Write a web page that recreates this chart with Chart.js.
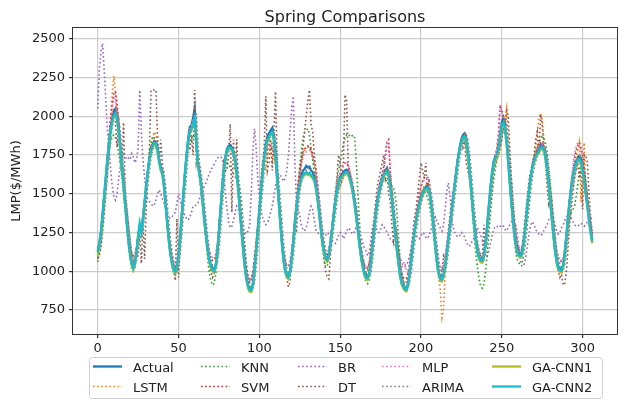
<!DOCTYPE html>
<html>
<head>
<meta charset="utf-8">
<script src="https://cdn.jsdelivr.net/npm/chart.js@4.4.1/dist/chart.umd.min.js"></script>
<style>
  html, body { margin: 0; padding: 0; background: #fff; }
  #wrap { width: 624px; height: 400px; }
</style>
</head>
<body>
<div id="wrap"><canvas id="springChart" width="624" height="400"></canvas></div>
<script>
// hour index of the test window
var hours = Array.from({length: 307}, function(_, i) { return i; });

var actual = [
  1130,1180,1260,1370,1490,1610,1730,1840,1930,1990,
  2030,2050,2000,1920,1800,1680,1560,1440,1320,1210,
  1120,1060,1030,1060,1130,1220,1300,1260,1350,1450,
  1560,1650,1730,1790,1820,1840,1835,1790,1720,1670,
  1650,1560,1440,1320,1210,1120,1060,1020,1000,1030,
  1100,1220,1360,1500,1640,1760,1860,1930,1940,1990,
  2050,1850,1690,1640,1560,1450,1340,1240,1150,1080,
  1040,1020,1010,1040,1120,1250,1400,1540,1660,1740,
  1790,1810,1815,1800,1770,1720,1640,1530,1400,1270,
  1150,1040,960,910,885,880,920,1010,1130,1260,
  1390,1520,1640,1740,1820,1870,1890,1910,1925,1870,
  1760,1620,1470,1320,1190,1080,1010,975,965,1000,
  1080,1190,1310,1420,1510,1580,1620,1650,1660,1680,
  1670,1675,1650,1640,1610,1560,1480,1390,1290,1200,
  1130,1090,1080,1110,1180,1270,1360,1450,1520,1570,
  1610,1620,1640,1650,1655,1640,1610,1570,1510,1440,
  1360,1270,1180,1100,1040,990,965,960,990,1060,
  1160,1270,1370,1450,1510,1560,1600,1630,1650,1665,
  1630,1560,1470,1370,1260,1160,1070,990,930,910,
  895,890,920,990,1080,1170,1260,1330,1390,1440,
  1480,1510,1530,1545,1555,1530,1470,1380,1270,1160,
  1060,990,955,950,980,1040,1120,1210,1300,1390,
  1480,1570,1660,1740,1800,1850,1880,1890,1860,1780,
  1670,1550,1420,1300,1200,1130,1090,1075,1070,1110,
  1190,1300,1420,1540,1640,1710,1740,1760,1800,1880,
  1960,1990,1950,1850,1720,1580,1450,1330,1230,1160,
  1120,1110,1110,1150,1230,1330,1440,1540,1620,1680,
  1720,1750,1770,1790,1810,1820,1800,1750,1670,1570,
  1460,1350,1240,1140,1070,1030,1015,1010,1040,1120,
  1230,1350,1460,1550,1620,1670,1710,1735,1745,1720,
  1660,1590,1510,1430,1340,1260,1200
];

var lstm = [
  1090,1140,1200,1300,1420,1560,1700,1850,2000,2150,
  2260,2150,2000,1850,1760,1700,1580,1460,1340,1230,
  1140,1070,1040,1050,1100,1190,1290,1280,1300,1400,
  1520,1630,1720,1800,1860,1900,1880,1820,1740,1680,
  1660,1580,1460,1340,1230,1130,1060,1010,990,1000,
  1070,1180,1320,1470,1610,1740,1850,1920,1930,1950,
  1980,1900,1720,1650,1580,1470,1360,1260,1160,1080,
  1030,1000,990,1010,1090,1210,1360,1510,1640,1730,
  1770,1790,1790,1780,1750,1700,1630,1530,1410,1280,
  1160,1050,960,900,875,870,900,990,1110,1240,
  1370,1500,1610,1690,1650,1720,1800,1780,1700,1760,
  1720,1600,1460,1320,1190,1080,1010,975,970,995,
  1070,1180,1310,1430,1540,1630,1700,1750,1780,1790,
  1800,1810,1780,1740,1690,1620,1530,1430,1320,1220,
  1140,1090,1070,1090,1160,1250,1350,1440,1520,1560,
  1540,1580,1600,1620,1630,1610,1580,1540,1490,1420,
  1340,1250,1160,1080,1020,975,955,950,975,1040,
  1140,1250,1360,1450,1510,1560,1600,1630,1650,1640,
  1620,1550,1460,1360,1250,1150,1060,985,930,905,
  890,885,905,970,1060,1160,1270,1350,1410,1460,
  1500,1530,1550,1560,1560,1530,1470,1380,1270,1160,
  1050,960,870,700,750,1000,1110,1190,1280,1370,
  1460,1550,1640,1720,1790,1840,1870,1880,1860,1790,
  1680,1560,1430,1310,1210,1130,1080,1060,1060,1090,
  1170,1270,1380,1490,1590,1660,1700,1720,1740,1790,
  1860,1950,1980,2050,1860,1650,1480,1350,1240,1160,
  1120,1100,1100,1130,1210,1310,1420,1530,1620,1690,
  1740,1800,1900,1990,2020,1980,1860,1740,1640,1550,
  1450,1340,1230,1130,1060,1020,1000,995,1020,1090,
  1190,1310,1420,1510,1590,1650,1710,1780,1830,1450,
  1600,1830,1550,1430,1340,1260,1190
];

var knn = [
  1060,1120,1200,1310,1430,1550,1660,1760,1830,1870,
  1880,1860,1820,1760,1690,1600,1500,1390,1280,1170,
  1080,1020,1000,1020,1100,1200,1270,1240,1310,1420,
  1540,1650,1750,1830,1870,1860,1820,1760,1700,1640,
  1620,1540,1430,1320,1200,1100,1030,990,975,1000,
  1080,1200,1350,1500,1630,1740,1820,1850,1840,1870,
  1880,1800,1680,1620,1540,1430,1310,1190,1080,990,
  940,910,920,980,1080,1220,1370,1510,1620,1680,
  1700,1690,1670,1650,1630,1610,1590,1560,1530,1450,
  1320,1180,1040,940,880,870,900,990,1110,1250,
  1390,1520,1640,1730,1800,1840,1850,1840,1820,1790,
  1700,1580,1440,1300,1170,1060,990,960,960,1000,
  1090,1210,1340,1460,1570,1680,1780,1860,1900,1910,
  1920,1880,1800,1720,1640,1560,1470,1370,1260,1150,
  1070,1030,1030,1080,1180,1300,1410,1510,1590,1650,
  1700,1760,1820,1860,1880,1870,1880,1870,1880,1860,
  1700,1500,1310,1150,1040,970,930,920,940,1010,
  1120,1250,1370,1460,1520,1560,1590,1600,1590,1580,
  1560,1560,1550,1540,1500,1400,1240,1080,960,900,
  880,880,920,1000,1100,1200,1290,1360,1420,1460,
  1500,1510,1510,1500,1480,1440,1380,1300,1210,1110,
  1020,960,940,940,970,1030,1110,1200,1290,1380,
  1470,1560,1650,1730,1790,1830,1850,1840,1790,1710,
  1600,1480,1350,1220,1110,1020,950,900,890,920,
  1000,1110,1240,1370,1490,1590,1660,1720,1800,1860,
  1900,1910,1880,1800,1690,1560,1420,1290,1180,1100,
  1060,1050,1050,1070,1130,1220,1330,1440,1540,1630,
  1700,1760,1800,1830,1860,1870,1860,1830,1770,1680,
  1570,1450,1330,1210,1110,1040,1000,990,1010,1080,
  1180,1280,1350,1380,1400,1420,1480,1560,1640,1690,
  1700,1640,1560,1470,1380,1290,1220
];

var svm = [
  1140,1180,1250,1350,1470,1600,1740,1870,1990,2080,
  2150,2160,2080,1950,1820,1700,1580,1460,1350,1250,
  1170,1120,1100,1110,1160,1230,1300,1300,1360,1450,
  1550,1640,1720,1790,1830,1840,1820,1780,1720,1680,
  1650,1580,1470,1360,1260,1170,1100,1060,1050,1070,
  1130,1230,1360,1490,1620,1740,1840,1900,1940,1960,
  1980,1860,1730,1670,1590,1490,1390,1290,1200,1130,
  1090,1070,1070,1100,1170,1280,1410,1540,1650,1740,
  1780,1800,1810,1800,1770,1730,1660,1560,1440,1320,
  1200,1100,1020,970,950,950,980,1060,1170,1290,
  1410,1530,1640,1730,1790,1820,1820,1800,1790,1760,
  1700,1600,1470,1340,1220,1120,1060,1030,1030,1060,
  1130,1230,1350,1460,1560,1650,1720,1770,1790,1800,
  1810,1800,1780,1760,1720,1660,1570,1470,1360,1250,
  1170,1120,1110,1140,1210,1300,1390,1470,1540,1600,
  1640,1670,1690,1700,1700,1680,1640,1590,1530,1460,
  1380,1290,1200,1130,1080,1040,1020,1020,1050,1110,
  1200,1300,1400,1480,1540,1590,1630,1680,1760,1840,
  1850,1650,1510,1400,1300,1200,1110,1040,990,960,
  950,950,970,1030,1110,1200,1290,1370,1440,1500,
  1550,1580,1600,1610,1610,1580,1520,1430,1330,1230,
  1130,1060,1020,1010,1030,1090,1170,1260,1350,1440,
  1520,1600,1680,1750,1800,1840,1860,1860,1830,1760,
  1660,1550,1430,1320,1230,1160,1120,1100,1100,1130,
  1200,1300,1410,1520,1620,1700,1750,1790,1880,2070,
  2040,1990,1930,1840,1720,1590,1470,1360,1270,1200,
  1160,1140,1140,1170,1240,1330,1430,1530,1610,1680,
  1730,1770,1800,1820,1830,1830,1810,1760,1680,1590,
  1490,1390,1290,1200,1130,1090,1070,1060,1080,1140,
  1240,1350,1460,1560,1650,1720,1780,1810,1830,1800,
  1740,1660,1570,1480,1390,1310,1240
];

var br = [
  2050,2300,2420,2470,2300,2100,1900,1800,1650,1550,
  1480,1460,1500,1600,1680,1750,1760,1740,1720,1730,
  1720,1760,1740,1700,1720,1800,2170,1900,1720,1600,
  1490,1460,1450,1440,1420,1430,1460,1500,1525,1500,
  1470,1440,1400,1370,1350,1340,1350,1370,1380,1440,
  1500,1460,1410,1380,1360,1340,1330,1350,1380,1420,
  1420,1430,1440,1470,1500,1520,1550,1570,1600,1630,
  1650,1670,1690,1710,1730,1740,1740,1730,1650,1500,
  1400,1320,1280,1290,1330,1380,1420,1400,1350,1300,
  1270,1250,1240,1260,1300,1500,1780,1920,1800,1600,
  1480,1400,1350,1320,1300,1310,1340,1380,1420,1480,
  1550,1600,1610,1620,1600,1580,1600,1650,1750,1900,
  2050,2130,1700,1420,1400,1360,1300,1270,1260,1280,
  1320,1380,1420,1400,1330,1270,1250,1240,1230,1250,
  1240,1230,1250,1240,1220,1200,1190,1180,1200,1230,
  1250,1240,1210,1230,1260,1280,1270,1250,1240,1260,
  1290,1280,1250,1220,1180,1150,1130,1100,1120,1200,
  1280,1310,1290,1260,1250,1270,1300,1290,1270,1250,
  1230,1210,1200,1180,1170,1150,1120,1090,1060,1040,
  1030,1040,1060,1100,1150,1200,1240,1230,1220,1210,
  1230,1250,1240,1220,1210,1230,1260,1300,1330,1350,
  1320,1300,1280,1260,1300,1400,1520,1570,1480,1350,
  1280,1250,1230,1220,1230,1250,1240,1220,1190,1170,
  1160,1180,1200,1220,1250,1280,1260,1230,1200,1150,
  1120,1100,1130,1180,1230,1270,1290,1290,1280,1290,
  1300,1290,1270,1260,1280,1300,1320,1330,1310,1290,
  1200,1100,1040,1030,1050,1100,1180,1250,1300,1320,
  1300,1270,1250,1240,1230,1240,1260,1280,1300,1330,
  1350,1360,1340,1300,1260,1240,1250,1280,1300,1330,
  1350,1370,1360,1340,1320,1300,1290,1290,1300,1310,
  1300,1290,1300,1320,1340,1350,1330
];

var dt = [
  1080,1100,1150,1250,1380,1500,1640,1780,1900,2000,
  2050,1960,1800,1980,1700,1690,1960,1500,1400,1300,
  1200,1120,1080,1050,1090,1100,1250,1050,1300,1080,
  1400,1600,1800,2170,2170,2170,2170,1880,1700,1850,
  1700,1550,1450,1350,1250,1150,1080,1000,940,1340,
  960,1150,1300,1450,1600,1750,1850,1780,1880,1750,
  2170,1700,1750,1600,1500,1400,1300,1200,1120,1050,
  1000,960,980,1050,1150,1300,1420,1600,1700,1650,
  1650,1750,1950,1380,1850,1650,1850,1500,1400,1300,
  1200,1080,1000,950,930,950,1000,1100,1200,1300,
  1450,1600,1700,1800,2130,1650,1700,1850,1650,1900,
  2160,1700,1500,1350,1200,1100,1000,950,900,930,
  1100,1200,1330,1250,1450,1600,1700,1800,1900,2000,
  2100,2170,1950,1900,1750,1650,1500,1400,1300,1200,
  1100,1000,960,950,1100,1250,1350,1450,1600,1750,
  1700,1600,1700,2140,2100,1680,1600,1550,1500,1450,
  1400,1300,1200,1100,1050,1000,980,1000,1050,1150,
  1250,1350,1450,1550,1600,1650,1700,1750,1600,1650,
  1500,1450,1300,1200,1300,1250,1150,1050,980,940,
  920,930,1000,1050,1150,1250,1350,1400,1500,1600,
  1700,1650,1600,1700,1500,1600,1450,1400,1300,1200,
  1100,1000,950,1000,1100,1080,1150,1250,1350,1450,
  1500,1550,1650,1750,1800,1850,1800,1850,1700,1650,
  1600,1500,1400,1300,1200,1150,1100,1050,1100,1300,
  1150,1250,1350,1450,1550,1650,1700,1750,1850,1800,
  1850,1950,1900,2050,2000,1780,1600,1450,1300,1200,
  1150,1100,1080,1200,1300,1400,1500,1600,1650,1700,
  1750,1850,1900,1750,2010,1950,1800,1700,1550,1440,
  1500,1450,1300,1150,1050,1000,960,980,910,920,
  1000,1150,1300,1400,1500,1600,1650,1700,1600,1650,
  1400,1750,1750,1700,1500,1350,1200
];

var mlp = [
  1120,1170,1240,1350,1470,1600,1730,1860,1970,2060,
  2120,2100,2020,1900,1780,1660,1540,1420,1310,1210,
  1130,1080,1070,1090,1150,1230,1300,1280,1340,1440,
  1540,1630,1710,1780,1820,1830,1810,1770,1710,1670,
  1640,1570,1460,1350,1240,1150,1090,1050,1040,1060,
  1120,1220,1350,1490,1620,1740,1840,1910,1950,1980,
  2000,1870,1720,1660,1580,1480,1380,1280,1190,1130,
  1100,1090,1090,1110,1170,1270,1400,1530,1640,1730,
  1770,1790,1800,1790,1760,1720,1650,1550,1430,1310,
  1190,1090,1010,960,940,940,970,1050,1160,1280,
  1400,1520,1630,1720,1780,1810,1810,1800,1790,1770,
  1710,1610,1480,1350,1230,1130,1070,1040,1040,1070,
  1140,1240,1350,1460,1550,1630,1690,1730,1760,1770,
  1780,1780,1760,1740,1700,1650,1560,1460,1350,1250,
  1170,1130,1120,1150,1220,1300,1390,1470,1540,1590,
  1630,1660,1680,1700,1710,1690,1650,1600,1540,1470,
  1390,1300,1210,1140,1090,1050,1030,1030,1060,1120,
  1200,1300,1400,1480,1540,1590,1630,1660,1720,1830,
  1820,1640,1510,1400,1300,1200,1110,1050,1010,1050,
  1060,1000,990,1040,1120,1200,1290,1370,1440,1490,
  1540,1570,1590,1600,1600,1570,1510,1420,1320,1230,
  1140,1070,1030,1020,1040,1100,1180,1260,1350,1430,
  1510,1590,1670,1740,1790,1830,1850,1850,1820,1750,
  1650,1540,1430,1320,1230,1160,1120,1110,1110,1140,
  1210,1310,1420,1530,1630,1700,1760,1800,1900,2080,
  2030,1980,1920,1830,1710,1590,1470,1360,1270,1200,
  1160,1150,1150,1180,1250,1340,1440,1530,1610,1680,
  1730,1760,1790,1810,1820,1820,1800,1750,1670,1580,
  1480,1380,1280,1190,1130,1090,1070,1070,1090,1150,
  1250,1370,1480,1580,1680,1760,1800,1830,1810,1780,
  1720,1650,1560,1470,1390,1310,1240
];

var arima = [
  1150,1140,1190,1270,1380,1500,1620,1740,1850,1930,
  1990,2030,2040,1990,1900,1780,1660,1540,1420,1310,
  1210,1120,1070,1040,1070,1140,1230,1290,1260,1350,
  1450,1560,1650,1730,1780,1810,1830,1820,1780,1710,
  1670,1640,1550,1430,1310,1200,1120,1060,1030,1010,
  1040,1110,1230,1370,1500,1640,1750,1850,1910,1930,
  1980,2020,1830,1690,1630,1550,1440,1330,1230,1140,
  1080,1040,1020,1020,1050,1130,1260,1400,1540,1650,
  1730,1780,1800,1800,1790,1760,1710,1630,1520,1390,
  1260,1140,1040,960,910,890,890,930,1020,1140,
  1270,1400,1520,1640,1730,1800,1850,1870,1890,1900,
  1850,1740,1600,1460,1320,1190,1090,1020,985,975,
  1010,1090,1200,1310,1410,1500,1570,1610,1640,1650,
  1670,1660,1660,1640,1630,1600,1550,1470,1380,1280,
  1200,1130,1100,1090,1120,1190,1280,1360,1440,1510,
  1560,1600,1610,1630,1640,1645,1630,1600,1560,1500,
  1430,1350,1260,1170,1100,1040,995,970,965,995,
  1060,1160,1270,1360,1440,1500,1550,1590,1620,1640,
  1650,1620,1550,1460,1360,1250,1150,1070,995,935,
  910,895,895,925,990,1080,1170,1250,1320,1380,
  1430,1470,1500,1520,1535,1540,1520,1460,1370,1260,
  1160,1060,995,960,955,985,1045,1120,1210,1300,
  1390,1480,1570,1650,1730,1790,1840,1870,1880,1850,
  1770,1660,1540,1410,1300,1200,1140,1100,1080,1075,
  1115,1195,1300,1420,1530,1630,1700,1730,1750,1790,
  1870,1950,1980,1940,1840,1710,1580,1450,1330,1230,
  1170,1130,1115,1115,1155,1230,1330,1430,1530,1610,
  1670,1710,1740,1760,1780,1800,1810,1790,1740,1660,
  1560,1450,1340,1240,1140,1080,1040,1020,1015,1045,
  1120,1230,1350,1460,1540,1610,1660,1700,1730,1740,
  1710,1650,1580,1500,1420,1340,1260
];

var gaCnn1 = [
  1100,1160,1240,1350,1470,1590,1710,1810,1900,1960,
  1995,2010,1970,1890,1780,1660,1540,1420,1300,1190,
  1100,1040,1010,1040,1120,1220,1290,1250,1330,1430,
  1540,1630,1710,1770,1800,1815,1810,1770,1700,1650,
  1620,1540,1420,1300,1190,1100,1040,1000,985,1015,
  1090,1210,1350,1490,1620,1740,1830,1890,1910,1950,
  1980,1820,1670,1620,1540,1430,1320,1220,1130,1060,
  1020,1000,990,1025,1110,1240,1380,1520,1640,1720,
  1770,1790,1790,1780,1750,1700,1620,1510,1380,1250,
  1130,1020,940,890,868,865,905,995,1115,1245,
  1375,1500,1620,1720,1790,1840,1860,1880,1890,1840,
  1730,1590,1440,1300,1170,1060,995,960,950,985,
  1065,1175,1290,1400,1490,1550,1590,1610,1620,1630,
  1620,1625,1610,1600,1580,1530,1460,1370,1270,1180,
  1115,1075,1062,1095,1165,1255,1345,1430,1500,1550,
  1590,1600,1615,1625,1630,1620,1590,1550,1490,1420,
  1340,1250,1160,1080,1020,975,948,945,975,1045,
  1145,1255,1355,1435,1490,1540,1580,1610,1630,1640,
  1610,1540,1450,1350,1240,1140,1050,970,915,890,
  875,870,902,975,1065,1155,1245,1315,1375,1420,
  1460,1490,1510,1525,1530,1510,1450,1360,1250,1140,
  1040,975,940,935,965,1025,1105,1195,1285,1375,
  1465,1555,1640,1720,1780,1825,1855,1860,1835,1760,
  1650,1530,1400,1280,1185,1115,1075,1058,1055,1095,
  1175,1285,1405,1520,1620,1690,1720,1740,1780,1860,
  1930,1950,1920,1825,1700,1560,1430,1310,1210,1140,
  1100,1090,1090,1130,1215,1315,1425,1520,1600,1660,
  1700,1730,1750,1765,1785,1790,1775,1730,1650,1550,
  1440,1330,1220,1120,1050,1010,995,995,1025,1105,
  1215,1335,1440,1530,1600,1650,1685,1710,1715,1695,
  1640,1570,1490,1410,1320,1240,1180
];

var gaCnn2 = [
  1120,1170,1250,1360,1480,1600,1720,1820,1910,1970,
  2005,2020,1980,1900,1790,1670,1550,1430,1310,1200,
  1110,1050,1020,1050,1130,1230,1310,1250,1330,1440,
  1550,1640,1720,1780,1810,1830,1825,1780,1710,1660,
  1630,1550,1430,1310,1200,1110,1050,1010,995,1025,
  1100,1220,1360,1500,1630,1750,1840,1900,1920,1960,
  1990,1830,1680,1630,1550,1440,1330,1230,1140,1070,
  1030,1010,1000,1035,1120,1250,1390,1530,1650,1730,
  1780,1800,1800,1790,1760,1710,1630,1520,1390,1260,
  1140,1030,950,900,878,875,915,1005,1125,1255,
  1385,1510,1630,1730,1800,1850,1870,1890,1900,1850,
  1740,1600,1450,1310,1180,1070,1005,970,960,995,
  1075,1185,1300,1410,1500,1560,1600,1620,1630,1640,
  1630,1635,1620,1610,1590,1540,1470,1380,1280,1190,
  1125,1085,1072,1105,1175,1265,1355,1440,1510,1560,
  1600,1610,1625,1635,1640,1630,1600,1560,1500,1430,
  1350,1260,1170,1090,1030,985,958,955,985,1055,
  1155,1265,1365,1445,1500,1550,1590,1620,1640,1650,
  1620,1550,1460,1360,1250,1150,1060,980,925,900,
  885,880,912,985,1075,1165,1255,1325,1385,1430,
  1470,1500,1520,1535,1540,1520,1460,1370,1260,1150,
  1050,985,950,945,975,1035,1115,1205,1295,1385,
  1475,1565,1650,1730,1790,1835,1865,1870,1845,1770,
  1660,1540,1410,1290,1195,1125,1085,1068,1065,1105,
  1185,1295,1415,1530,1630,1700,1730,1750,1790,1870,
  1940,1960,1930,1835,1710,1570,1440,1320,1220,1150,
  1110,1100,1100,1140,1225,1325,1435,1530,1610,1670,
  1710,1740,1760,1775,1795,1800,1785,1740,1660,1560,
  1450,1340,1230,1130,1060,1020,1005,1005,1035,1115,
  1225,1345,1450,1540,1610,1660,1695,1720,1725,1705,
  1650,1580,1500,1420,1330,1250,1190
];

var xTicks = [0, 50, 100, 150, 200, 250, 300];
var yTicks = [750, 1000, 1250, 1500, 1750, 2000, 2250, 2500];

var FONT = '"DejaVu Sans", "Liberation Sans", sans-serif';
var DOTS = [1.6, 2.5];

// matplotlib tab10 colours, in plotting order
var series = [
    {label: 'Actual',  values: actual, color: '#1f77b4', dotted: false},
    {label: 'LSTM',    values: lstm,   color: '#ff7f0e', dotted: true},
    {label: 'KNN',     values: knn,    color: '#2ca02c', dotted: true},
    {label: 'SVM',     values: svm,    color: '#d62728', dotted: true},
    {label: 'BR',      values: br,     color: '#9467bd', dotted: true},
    {label: 'DT',      values: dt,     color: '#8c564b', dotted: true},
    {label: 'MLP',     values: mlp,    color: '#e377c2', dotted: true},
    {label: 'ARIMA',   values: arima,  color: '#7f7f7f', dotted: true},
    {label: 'GA-CNN1', values: gaCnn1, color: '#bcbd22', dotted: false},
    {label: 'GA-CNN2', values: gaCnn2, color: '#17becf', dotted: false}
];

function points(values) {
    return values.map(function(v, i) { return {x: hours[i], y: v}; });
}

var datasets = series.map(function(s, i) {
    return {
        label: s.label,
        data: points(s.values),
        borderColor: s.color,
        backgroundColor: s.color,
        borderWidth: s.dotted ? 1.6 : 2.3,
        borderDash: s.dotted ? DOTS : [],
        borderCapStyle: 'butt',
        pointRadius: 0,
        tension: 0,
        fill: false,
        order: series.length - i   // later series drawn on top, like matplotlib
    };
});

// title, frame and a 5-column legend laid out the matplotlib way
var mplDecor = {
    id: 'mplDecor',
    afterDatasetsDraw: function(chart) {
        var a = chart.chartArea;
        var ctx = chart.ctx;
        ctx.save();
        ctx.strokeStyle = '#333';
        ctx.lineWidth = 1;
        ctx.strokeRect(a.left - 0.5, a.top - 0.5, a.right - a.left + 1, a.bottom - a.top + 1);
        ctx.restore();
    },
    afterDraw: function(chart) {
        var a = chart.chartArea;
        var ctx = chart.ctx;
        ctx.save();
        ctx.fillStyle = '#222';
        ctx.font = '16px ' + FONT;
        ctx.textAlign = 'center';
        ctx.textBaseline = 'alphabetic';
        ctx.fillText('Spring Comparisons', (a.left + a.right) / 2, 21.5);

        // legend frame
        var bx = 89.5, by = 357.5, bw = 513, bh = 41, r = 3;
        ctx.beginPath();
        ctx.moveTo(bx + r, by);
        ctx.lineTo(bx + bw - r, by);
        ctx.quadraticCurveTo(bx + bw, by, bx + bw, by + r);
        ctx.lineTo(bx + bw, by + bh - r);
        ctx.quadraticCurveTo(bx + bw, by + bh, bx + bw - r, by + bh);
        ctx.lineTo(bx + r, by + bh);
        ctx.quadraticCurveTo(bx, by + bh, bx, by + bh - r);
        ctx.lineTo(bx, by + r);
        ctx.quadraticCurveTo(bx, by, bx + r, by);
        ctx.closePath();
        ctx.fillStyle = 'rgba(255,255,255,0.8)';
        ctx.fill();
        ctx.strokeStyle = '#d0d0d0';
        ctx.lineWidth = 1;
        ctx.stroke();

        var colX = [93, 201, 298, 382, 492];
        var rowY = [366.5, 386.5];
        ctx.font = '13px ' + FONT;
        ctx.textAlign = 'left';
        chart.data.datasets.forEach(function(ds, i) {
            var col = Math.floor(i / 2), row = i % 2;
            var x = colX[col], y = rowY[row];
            ctx.beginPath();
            ctx.setLineDash(ds.borderDash);
            ctx.lineWidth = ds.borderWidth;
            ctx.strokeStyle = ds.borderColor;
            ctx.moveTo(x, y);
            ctx.lineTo(x + 29, y);
            ctx.stroke();
            ctx.setLineDash([]);
            ctx.fillStyle = '#222';
            ctx.fillText(ds.label, x + 40, y + 5);
        });
        ctx.restore();
    }
};

var ctx = document.getElementById('springChart').getContext('2d');
var springChart = new Chart(ctx, {
    type: 'line',
    data: { datasets: datasets },
    plugins: [mplDecor],
    options: {
        responsive: false,
        animation: false,
        devicePixelRatio: 1,
        layout: { padding: { top: 28, right: 7, bottom: 0, left: 0 } },
        scales: {
            x: {
                type: 'linear',
                min: -15.3,
                max: 321.3,
                afterBuildTicks: function(scale) {
                    scale.ticks = xTicks.map(function(v) { return {value: v}; });
                },
                afterFit: function(scale) { scale.height = 66; },
                ticks: {
                    padding: 3,
                    color: '#222',
                    font: { family: FONT, size: 13 },
                    maxRotation: 0,
                    callback: function(v) { return String(v); }
                },
                grid: { color: '#cccccc', lineWidth: 1.2, tickLength: 4, tickColor: '#333' },
                border: { display: false }
            },
            y: {
                type: 'linear',
                min: 595,
                max: 2570,
                afterBuildTicks: function(scale) {
                    scale.ticks = yTicks.map(function(v) { return {value: v}; });
                },
                afterFit: function(scale) { scale.width = 73; },
                title: {
                    display: true,
                    text: 'LMP($/MWh)',
                    color: '#222',
                    font: { family: FONT, size: 13 },
                    padding: { top: 9, bottom: 0 }
                },
                ticks: {
                    padding: 4,
                    color: '#222',
                    font: { family: FONT, size: 13 },
                    callback: function(v) { return String(v); }
                },
                grid: { color: '#cccccc', lineWidth: 1.2, tickLength: 4, tickColor: '#333' },
                border: { display: false }
            }
        },
        plugins: {
            legend: { display: false },
            tooltip: { enabled: false },
            title: { display: false }
        }
    }
});
</script>
</body>
</html>
